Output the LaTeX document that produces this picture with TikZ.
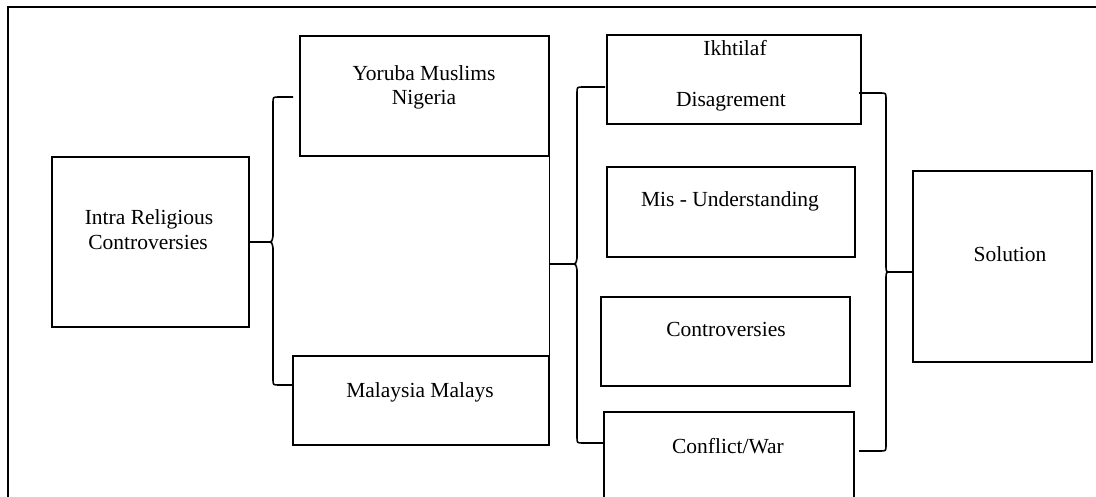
\documentclass[tikz,border=0pt]{standalone}
\usepackage{fontspec}
\setmainfont{Liberation Serif}
\usetikzlibrary{calc}
\begin{document}
\begin{tikzpicture}[x=1pt,y=-1pt,
  box/.style={draw, line width=1.6pt, inner sep=0pt, outer sep=0pt, anchor=north west},
  lbl/.style={anchor=base, inner sep=0pt, font=\fontsize{21.5}{25}\selectfont},
  brace/.style={draw, line width=1.6pt},
  link/.style={draw, line width=1pt}
]
\useasboundingbox (0,0) rectangle (1096,497);

% page frame
\draw[line width=1.2pt] (8,497) -- (8,7) -- (1096,7);

% boxes
\node[box, minimum width=197pt, minimum height=170pt] (intra)  at (52,157)  {};
\node[box, minimum width=249pt, minimum height=120pt] (yoruba) at (300,36)  {};
\node[box, minimum width=256pt, minimum height=89pt]  (malay)  at (293,356) {};
\node[box, minimum width=254pt, minimum height=89pt]  (ikh)    at (607,35)  {};
\node[box, minimum width=248pt, minimum height=90pt]  (mis)    at (607,167) {};
\node[box, minimum width=249pt, minimum height=89pt]  (contr)  at (601,297) {};
\node[box, minimum width=250pt, minimum height=110pt] (conf)   at (604,412) {};
\node[box, minimum width=179pt, minimum height=191pt] (sol)    at (913,171) {};

% labels
\node[lbl] (tIntraA) at (149,225) {Intra Religious};
\node[lbl] (tIntraB) at (148,250) {Controversies};
\node[lbl] (tYorA)   at (424,81)  {Yoruba Muslims};
\node[lbl] (tYorB)   at (424,105) {Nigeria};
\node[lbl] (tMalay)  at (420,397) {Malaysia Malays};
\node[lbl] (tIkhA)   at (735,56)  {Ikhtilaf};
\node[lbl] (tIkhB)   at (731,107) {Disagrement};
\node[lbl] (tMis)    at (730,207) {Mis - Understanding};
\node[lbl] (tContr)  at (726,337) {Controversies};
\node[lbl] (tConf)   at (728,453) {Conflict/War};
\node[lbl] (tSol)    at (1010,262) {Solution};

% brace ends
\coordinate (lbTop) at ($(yoruba.north west)+(-7,61)$);
\coordinate (lbBot) at ($(malay.north west)+(0,29)$);
\coordinate (mTip)  at ($(yoruba.south east)+(0,108)$);
\coordinate (mTop)  at ($(ikh.north west)+(-2,52)$);
\coordinate (mBot)  at ($(conf.north west)+(0,31)$);
\coordinate (rTop)  at ($(ikh.north east)+(-2,58)$);
\coordinate (rBot)  at ($(conf.north east)+(5,39)$);
\coordinate (rTip)  at ($(sol.north west)+(0,101)$);

% left brace
\draw[brace] (intra.east) -- (267,242) .. controls (272,242) .. (273,236) -- (273,103)
  .. controls (273,97) .. (279,97) -- (lbTop);
\draw[brace] (267,242) .. controls (272,242) .. (273,248) -- (273,379)
  .. controls (273,385) .. (279,385) -- (lbBot);

% link between the two groups
\draw[link] (yoruba.south east) -- (malay.north east);

% middle brace
\draw[brace] (mTip) -- (571,264) .. controls (576,264) .. (577,258) -- (577,93)
  .. controls (577,87) .. (583,87) -- (mTop);
\draw[brace] (571,264) .. controls (576,264) .. (577,270) -- (577,437)
  .. controls (577,443) .. (583,443) -- (mBot);

% right brace
\draw[brace] (rTop) -- (880,93) .. controls (886,93) .. (886,99) -- (886,266)
  .. controls (886,272) .. (892,272) -- (rTip);
\draw[brace] (rBot) -- (880,451) .. controls (886,451) .. (886,445) -- (886,278)
  .. controls (886,272) .. (892,272);
\end{tikzpicture}
\end{document}
